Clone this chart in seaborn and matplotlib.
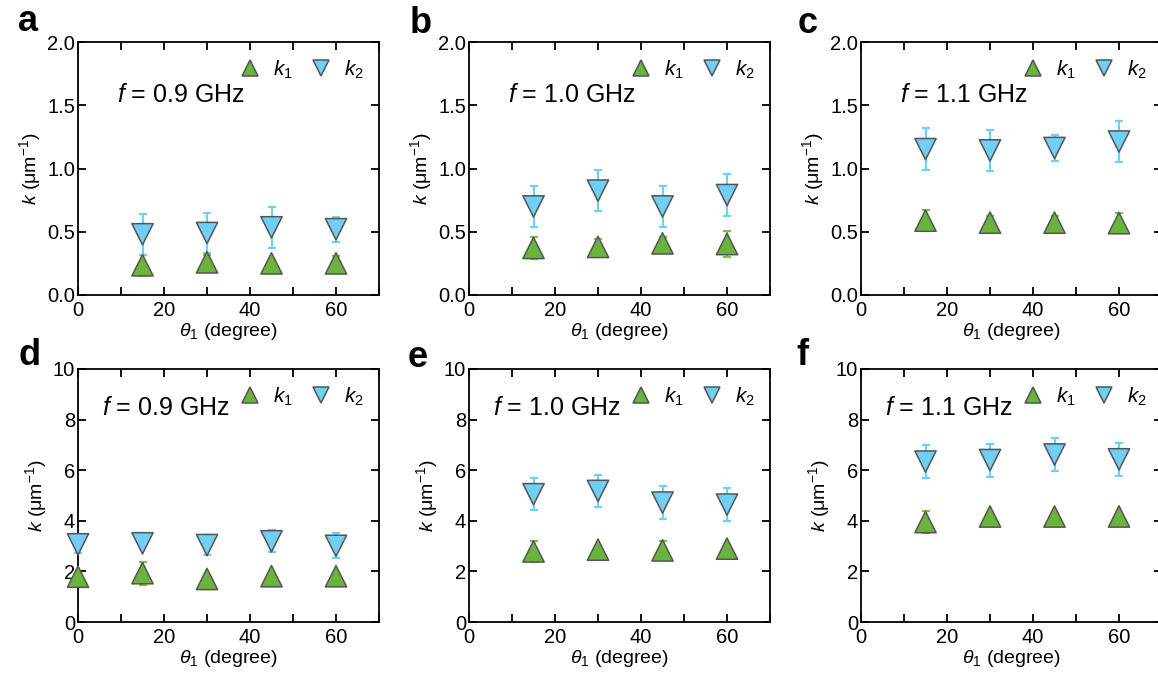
import matplotlib
matplotlib.use("Agg")
import matplotlib.pyplot as plt
import seaborn as sns
import pandas as pd
from matplotlib.ticker import MultipleLocator

# ---- data ----
theta_top = [15, 30, 45, 60]
theta_d = [0, 15, 30, 45, 60]

a_k1 = [0.235, 0.258, 0.25, 0.25]
a_k1_err = [0.085, 0.06, 0.03, 0.06]
a_k2 = [0.48, 0.49, 0.535, 0.52]
a_k2_err = [0.16, 0.16, 0.16, 0.10]

b_k1 = [0.372, 0.38, 0.408, 0.403]
b_k1_err = [0.085, 0.06, 0.05, 0.10]
b_k2 = [0.70, 0.825, 0.70, 0.79]
b_k2_err = [0.165, 0.16, 0.165, 0.165]

c_k1 = [0.588, 0.572, 0.572, 0.568]
c_k1_err = [0.085, 0.05, 0.05, 0.08]
c_k2 = [1.153, 1.143, 1.162, 1.213]
c_k2_err = [0.165, 0.16, 0.10, 0.165]

d_k1 = [1.79, 1.93, 1.70, 1.81, 1.81]
d_k1_err = [0.1, 0.45, 0.1, 0.1, 0.1]
d_k2 = [3.07, 3.11, 3.04, 3.19, 3.01]
d_k2_err = [0.35, 0.1, 0.38, 0.43, 0.5]

e_k1 = [2.79, 2.86, 2.83, 2.90]
e_k1_err = [0.43, 0.15, 0.38, 0.1]
e_k2 = [5.05, 5.18, 4.72, 4.64]
e_k2_err = [0.64, 0.645, 0.64, 0.64]

f_k1 = [3.95, 4.17, 4.17, 4.17]
f_k1_err = [0.45, 0.15, 0.12, 0.12]
f_k2 = [6.34, 6.40, 6.62, 6.43]
f_k2_err = [0.64, 0.65, 0.65, 0.64]

panel_letters = ["a", "b", "c", "d", "e", "f"]
freq_labels = ["0.9", "1.0", "1.1", "0.9", "1.0", "1.1"]

panels = [
    (theta_top, a_k1, a_k1_err, a_k2, a_k2_err),
    (theta_top, b_k1, b_k1_err, b_k2, b_k2_err),
    (theta_top, c_k1, c_k1_err, c_k2, c_k2_err),
    (theta_d, d_k1, d_k1_err, d_k2, d_k2_err),
    (theta_top, e_k1, e_k1_err, e_k2, e_k2_err),
    (theta_top, f_k1, f_k1_err, f_k2, f_k2_err),
]

# ---- style ----
sns.set_style("ticks", {"axes.edgecolor": "black", "text.color": "black",
                        "xtick.color": "black", "ytick.color": "black",
                        "axes.labelcolor": "black"})
plt.rcParams["font.family"] = ["Liberation Sans", "DejaVu Sans"]
plt.rcParams["mathtext.fontset"] = "custom"
plt.rcParams["mathtext.rm"] = "Liberation Sans"
plt.rcParams["mathtext.it"] = "Liberation Sans:italic"
plt.rcParams["axes.linewidth"] = 1.3

green = "#6ab43e"
green_bar = "#78c24a"
blue = "#6fcff5"
blue_bar = "#6fd0f7"
edge = "#555555"

W, H = 1158, 680
fig = plt.figure(figsize=(W / 100, H / 100), dpi=100)

lefts = [78, 469, 861]
tops = [42, 369]
ax_w, ax_h = 301, 253

letter_pos = [(18, 31), (410, 33), (798, 33), (18, 365), (408, 367), (796, 365)]

for i, (x, k1, k1e, k2, k2e) in enumerate(panels):
    row, col = divmod(i, 3)
    left = lefts[col]
    top = tops[row]
    ax = fig.add_axes([left / W, 1 - (top + ax_h) / H, ax_w / W, ax_h / H])

    # error bars first, markers on top
    ax.errorbar(x, k1, yerr=k1e, fmt="none", ecolor=green_bar, elinewidth=1.6,
                capsize=2.8, capthick=1.6, zorder=2, clip_on=False)
    ax.errorbar(x, k2, yerr=k2e, fmt="none", ecolor=blue_bar, elinewidth=1.6,
                capsize=2.8, capthick=1.6, zorder=2, clip_on=False)

    df = pd.DataFrame({
        "theta": list(x) + list(x),
        "k": list(k1) + list(k2),
        "series": ["k1"] * len(x) + ["k2"] * len(x),
    })
    sns.scatterplot(data=df, x="theta", y="k", hue="series", style="series",
                    markers={"k1": "^", "k2": "v"},
                    palette={"k1": green, "k2": blue},
                    s=235, edgecolor=edge, linewidth=1.1, ax=ax, zorder=3,
                    clip_on=False)

    handles, _ = ax.get_legend_handles_labels()
    ax.legend(handles, ["$k_1$", "$k_2$"], ncol=2, frameon=False,
              loc="upper right", bbox_to_anchor=(0.99, 0.985),
              fontsize=15, markerscale=0.75, handletextpad=0.5,
              columnspacing=0.75, handlelength=1.2, borderaxespad=0.2)

    ax.set_xlim(0, 70)
    ax.xaxis.set_major_locator(MultipleLocator(20))
    ax.xaxis.set_minor_locator(MultipleLocator(10))
    if row == 0:
        ax.set_ylim(0, 2.0)
        ax.set_yticks([0.0, 0.5, 1.0, 1.5, 2.0])
        ax.set_yticklabels(["0.0", "0.5", "1.0", "1.5", "2.0"])
        ax.text(0.13, 0.79, "$f$ = " + freq_labels[i] + " GHz", transform=ax.transAxes,
                fontsize=18, va="center", ha="left")
    else:
        ax.set_ylim(0, 10)
        ax.set_yticks([0, 2, 4, 6, 8, 10])
        ax.text(0.08, 0.846, "$f$ = " + freq_labels[i] + " GHz", transform=ax.transAxes,
                fontsize=18, va="center", ha="left")

    ax.tick_params(axis="both", which="both", direction="in", top=True, right=True,
                   length=6, width=1.3, labelsize=14.5, colors="black")
    ax.tick_params(axis="x", which="both", pad=4)
    ax.tick_params(axis="y", which="both", pad=2)

    ax.set_xlabel(r"$\theta_1$ (degree)", fontsize=14, labelpad=1)
    ax.set_ylabel(r"$k$ (μm$^{-1}$)", fontsize=14, labelpad=3)
    for s in ax.spines.values():
        s.set_linewidth(1.3)
        s.set_color("black")

    lx, ly = letter_pos[i]
    fig.text(lx / W, 1 - ly / H, panel_letters[i], fontsize=26, fontweight="bold",
             ha="left", va="baseline")

fig.savefig("out.png", dpi=100)
